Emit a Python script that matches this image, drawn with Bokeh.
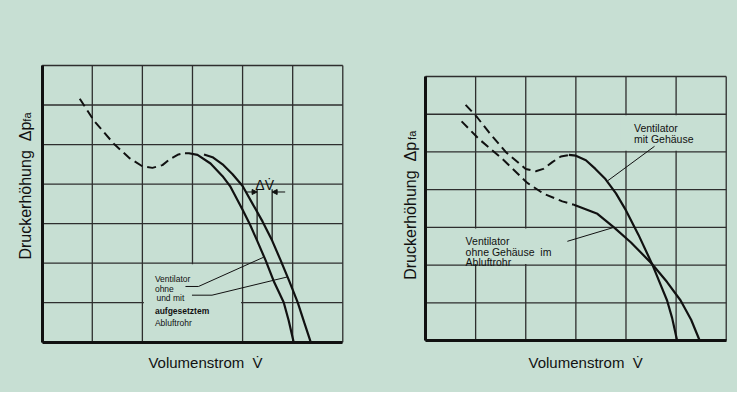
from bokeh.plotting import figure
from bokeh.models import Range1d, FixedTicker, Label, Arrow, NormalHead
from bokeh.layouts import row
from bokeh.embed import file_html
from bokeh.resources import INLINE

# ---------------- data (grid units) ----------------
x_ticks = [0, 1, 2, 3, 4, 5, 6]
y_ticks = [0, 1, 2, 3, 4, 5, 6, 7]

# left panel
l_dash_x = [0.75, 1.03, 1.43, 1.75, 2.0, 2.2, 2.4, 2.56, 2.72, 2.85]
l_dash_y = [6.16, 5.61, 5.02, 4.65, 4.45, 4.41, 4.48, 4.64, 4.75, 4.78]
l_inner_x = [2.85, 2.93, 3.1, 3.36, 3.6, 3.75, 4.0, 4.15, 4.29, 4.46, 4.62, 4.82, 4.92, 5.02]
l_inner_y = [4.78, 4.78, 4.74, 4.52, 4.2, 3.95, 3.35, 2.97, 2.57, 2.07, 1.55, 1.01, 0.55, 0.0]
l_outer_x = [3.23, 3.4, 3.6, 3.8, 4.0, 4.2, 4.4, 4.59, 4.76, 4.93, 5.10, 5.23, 5.36]
l_outer_y = [4.75, 4.68, 4.5, 4.25, 3.95, 3.5, 3.05, 2.57, 2.07, 1.55, 1.01, 0.5, 0.0]
l_text = ["Ventilator", "ohne", "und mit", "aufgesetztem", "Abluftrohr"]

# right panel
r_up_dash_x = [0.80, 1.03, 1.26, 1.60, 2.0, 2.2, 2.35, 2.53, 2.7, 2.86]
r_up_dash_y = [6.25, 5.92, 5.53, 5.0, 4.55, 4.49, 4.55, 4.73, 4.88, 4.92]
r_up_x = [2.86, 3.0, 3.2, 3.39, 3.59, 3.8, 4.0, 4.25, 4.52, 4.7, 4.82, 4.92, 5.02]
r_up_y = [4.92, 4.9, 4.78, 4.55, 4.28, 3.9, 3.45, 2.8, 2.03, 1.45, 1.06, 0.6, 0.0]
r_lo_dash_x = [0.72, 1.06, 1.53, 2.03, 2.36, 2.73, 2.96]
r_lo_dash_y = [5.81, 5.35, 4.82, 4.18, 3.89, 3.69, 3.60]
r_lo_x = [2.96, 3.43, 3.76, 4.1, 4.52, 4.82, 5.09, 5.3, 5.47]
r_lo_y = [3.60, 3.36, 3.0, 2.6, 2.03, 1.55, 1.06, 0.55, 0.0]
r_text_a = ["Ventilator", "mit Gehäuse"]
r_text_b = ["Ventilator", "ohne Gehäuse\u00a0\u00a0im", "Abluftrohr"]

x_title = "Volumenstrom\u00a0\u00a0V\u0307"
y_title = "Druckerhöhung\u00a0\u00a0Δp"
y_sub = "fa"

BG = "#c7dfd3"
FONT = "Liberation Sans"
INK = "#111111"
GRID = "#2e2e2e"
H = 392


def make_fig(width, xr, yr):
    p = figure(width=width, height=H, x_range=Range1d(*xr), y_range=Range1d(*yr),
               output_backend="svg", toolbar_location=None,
               min_border_left=0, min_border_right=0, min_border_top=0, min_border_bottom=0)
    p.background_fill_color = BG
    p.border_fill_color = BG
    p.outline_line_color = None
    p.xgrid.grid_line_color = None
    p.ygrid.grid_line_color = None
    p.xaxis.fixed_location = y_ticks[0]
    p.yaxis.fixed_location = x_ticks[0]
    p.xaxis.bounds = (x_ticks[0], x_ticks[-1])
    p.yaxis.bounds = (y_ticks[0], y_ticks[-1])
    for ax in (p.xaxis, p.yaxis):
        ax.ticker = FixedTicker(ticks=[])
        ax.axis_line_width = 3
        ax.axis_line_color = INK
        ax.major_tick_out = 0
        ax.major_tick_in = 0
        ax.minor_tick_out = 0
        ax.minor_tick_in = 0
        ax.major_label_standoff = 0
    # grid from the tick lists
    p.segment(x0=x_ticks, y0=[y_ticks[0]] * len(x_ticks), x1=x_ticks, y1=[y_ticks[-1]] * len(x_ticks),
              line_color=GRID, line_width=1.3)
    p.segment(x0=[x_ticks[0]] * len(y_ticks), y0=y_ticks, x1=[x_ticks[-1]] * len(y_ticks), y1=y_ticks,
              line_color=GRID, line_width=1.3)
    return p


def titles(p, xx, xy, yx, yy, subx, suby):
    p.add_layout(Label(x=xx, y=xy, text=x_title, text_align="left",
                       text_baseline="alphabetic", text_font=FONT,
                       text_font_size="15px", text_color=INK))
    p.add_layout(Label(x=yx, y=yy, text=y_title, angle=1.5708, text_align="left",
                       text_baseline="middle", text_font=FONT,
                       text_font_size="16px", text_color=INK))
    p.add_layout(Label(x=subx, y=suby, text=y_sub, angle=1.5708, text_align="left",
                       text_baseline="middle", text_font=FONT,
                       text_font_size="11px", text_color=INK))


def box(p, l, r, b, t):
    p.quad(left=[l], right=[r], bottom=[b], top=[t], fill_color=BG, line_color=None)


def note(p, x, y, t, size, bold=False):
    p.add_layout(Label(x=x, y=y, text=t, text_font=FONT, text_font_size=size,
                       text_font_style="bold" if bold else "normal",
                       text_color=INK, text_baseline="alphabetic"))


# ---------------- left panel ----------------
p1 = make_fig(375, (-0.832, 6.653), (-1.272, 8.644))
box(p1, 2.03, 3.97, 0.03, 1.97)
p1.line(l_dash_x, l_dash_y, line_color=INK, line_width=2, line_dash="9 5")
p1.line(l_inner_x, l_inner_y, line_color=INK, line_width=2.2)
p1.line(l_outer_x, l_outer_y, line_color=INK, line_width=2.2)
# delta V marks
p1.line([4.29, 4.29], [3.87, 2.57], line_color=INK, line_width=1.2)
p1.line([4.59, 4.59], [3.87, 2.57], line_color=INK, line_width=1.2)
p1.add_layout(Arrow(end=NormalHead(size=5, fill_color=INK, line_color=INK), x_start=4.07, y_start=3.80,
                    x_end=4.29, y_end=3.80, line_width=1, line_color=INK))
p1.add_layout(Arrow(end=NormalHead(size=5, fill_color=INK, line_color=INK), x_start=4.85, y_start=3.80,
                    x_end=4.59, y_end=3.80, line_width=1, line_color=INK))
p1.add_layout(Label(x=4.44, y=3.97, text="ΔV\u0307", text_align="center", text_baseline="alphabetic",
                    text_font=FONT, text_font_size="14px", text_color=INK))
# leader lines
p1.line([2.86, 3.12, 4.42], [1.41, 1.41, 2.15], line_color=INK, line_width=1)
p1.line([2.99, 3.39, 4.89], [1.19, 1.19, 1.65], line_color=INK, line_width=1)
for t, xx, yy in zip(l_text, [2.25, 2.25, 2.28, 2.25, 2.25], [1.59, 1.35, 1.11, 0.80, 0.48]):
    note(p1, xx, yy, t, "8.5px", bold=(t == "aufgesetztem"))
titles(p1, 2.12, -0.514, -0.333, 2.09, -0.313, 5.58)

# ---------------- right panel ----------------
p2 = make_fig(362, (-0.998, 6.225), (-1.379, 9.016))
box(p2, 3.9, 5.9, 5.03, 5.97)
box(p2, 0.7, 2.95, 2.03, 2.97)
p2.line(r_up_dash_x, r_up_dash_y, line_color=INK, line_width=2, line_dash="9 5")
p2.line(r_lo_dash_x, r_lo_dash_y, line_color=INK, line_width=2, line_dash="9 5")
p2.line(r_up_x, r_up_y, line_color=INK, line_width=2.2)
p2.line(r_lo_x, r_lo_y, line_color=INK, line_width=2.2)
p2.line([4.57, 3.64], [5.15, 4.24], line_color=INK, line_width=1)
p2.line([2.83, 3.76], [2.63, 3.0], line_color=INK, line_width=1)
for t, yy in zip(r_text_a, [5.64, 5.35]):
    note(p2, 4.16, yy, t, "10.5px")
for t, yy in zip(r_text_b, [2.65, 2.36, 2.07]):
    note(p2, 0.80, yy, t, "10.5px")
titles(p2, 2.055, -0.583, -0.30, 1.61, -0.27, 5.32)

layout = row(p1, p2, styles={"background-color": BG})
open("out.html", "w").write(file_html(layout, INLINE))
